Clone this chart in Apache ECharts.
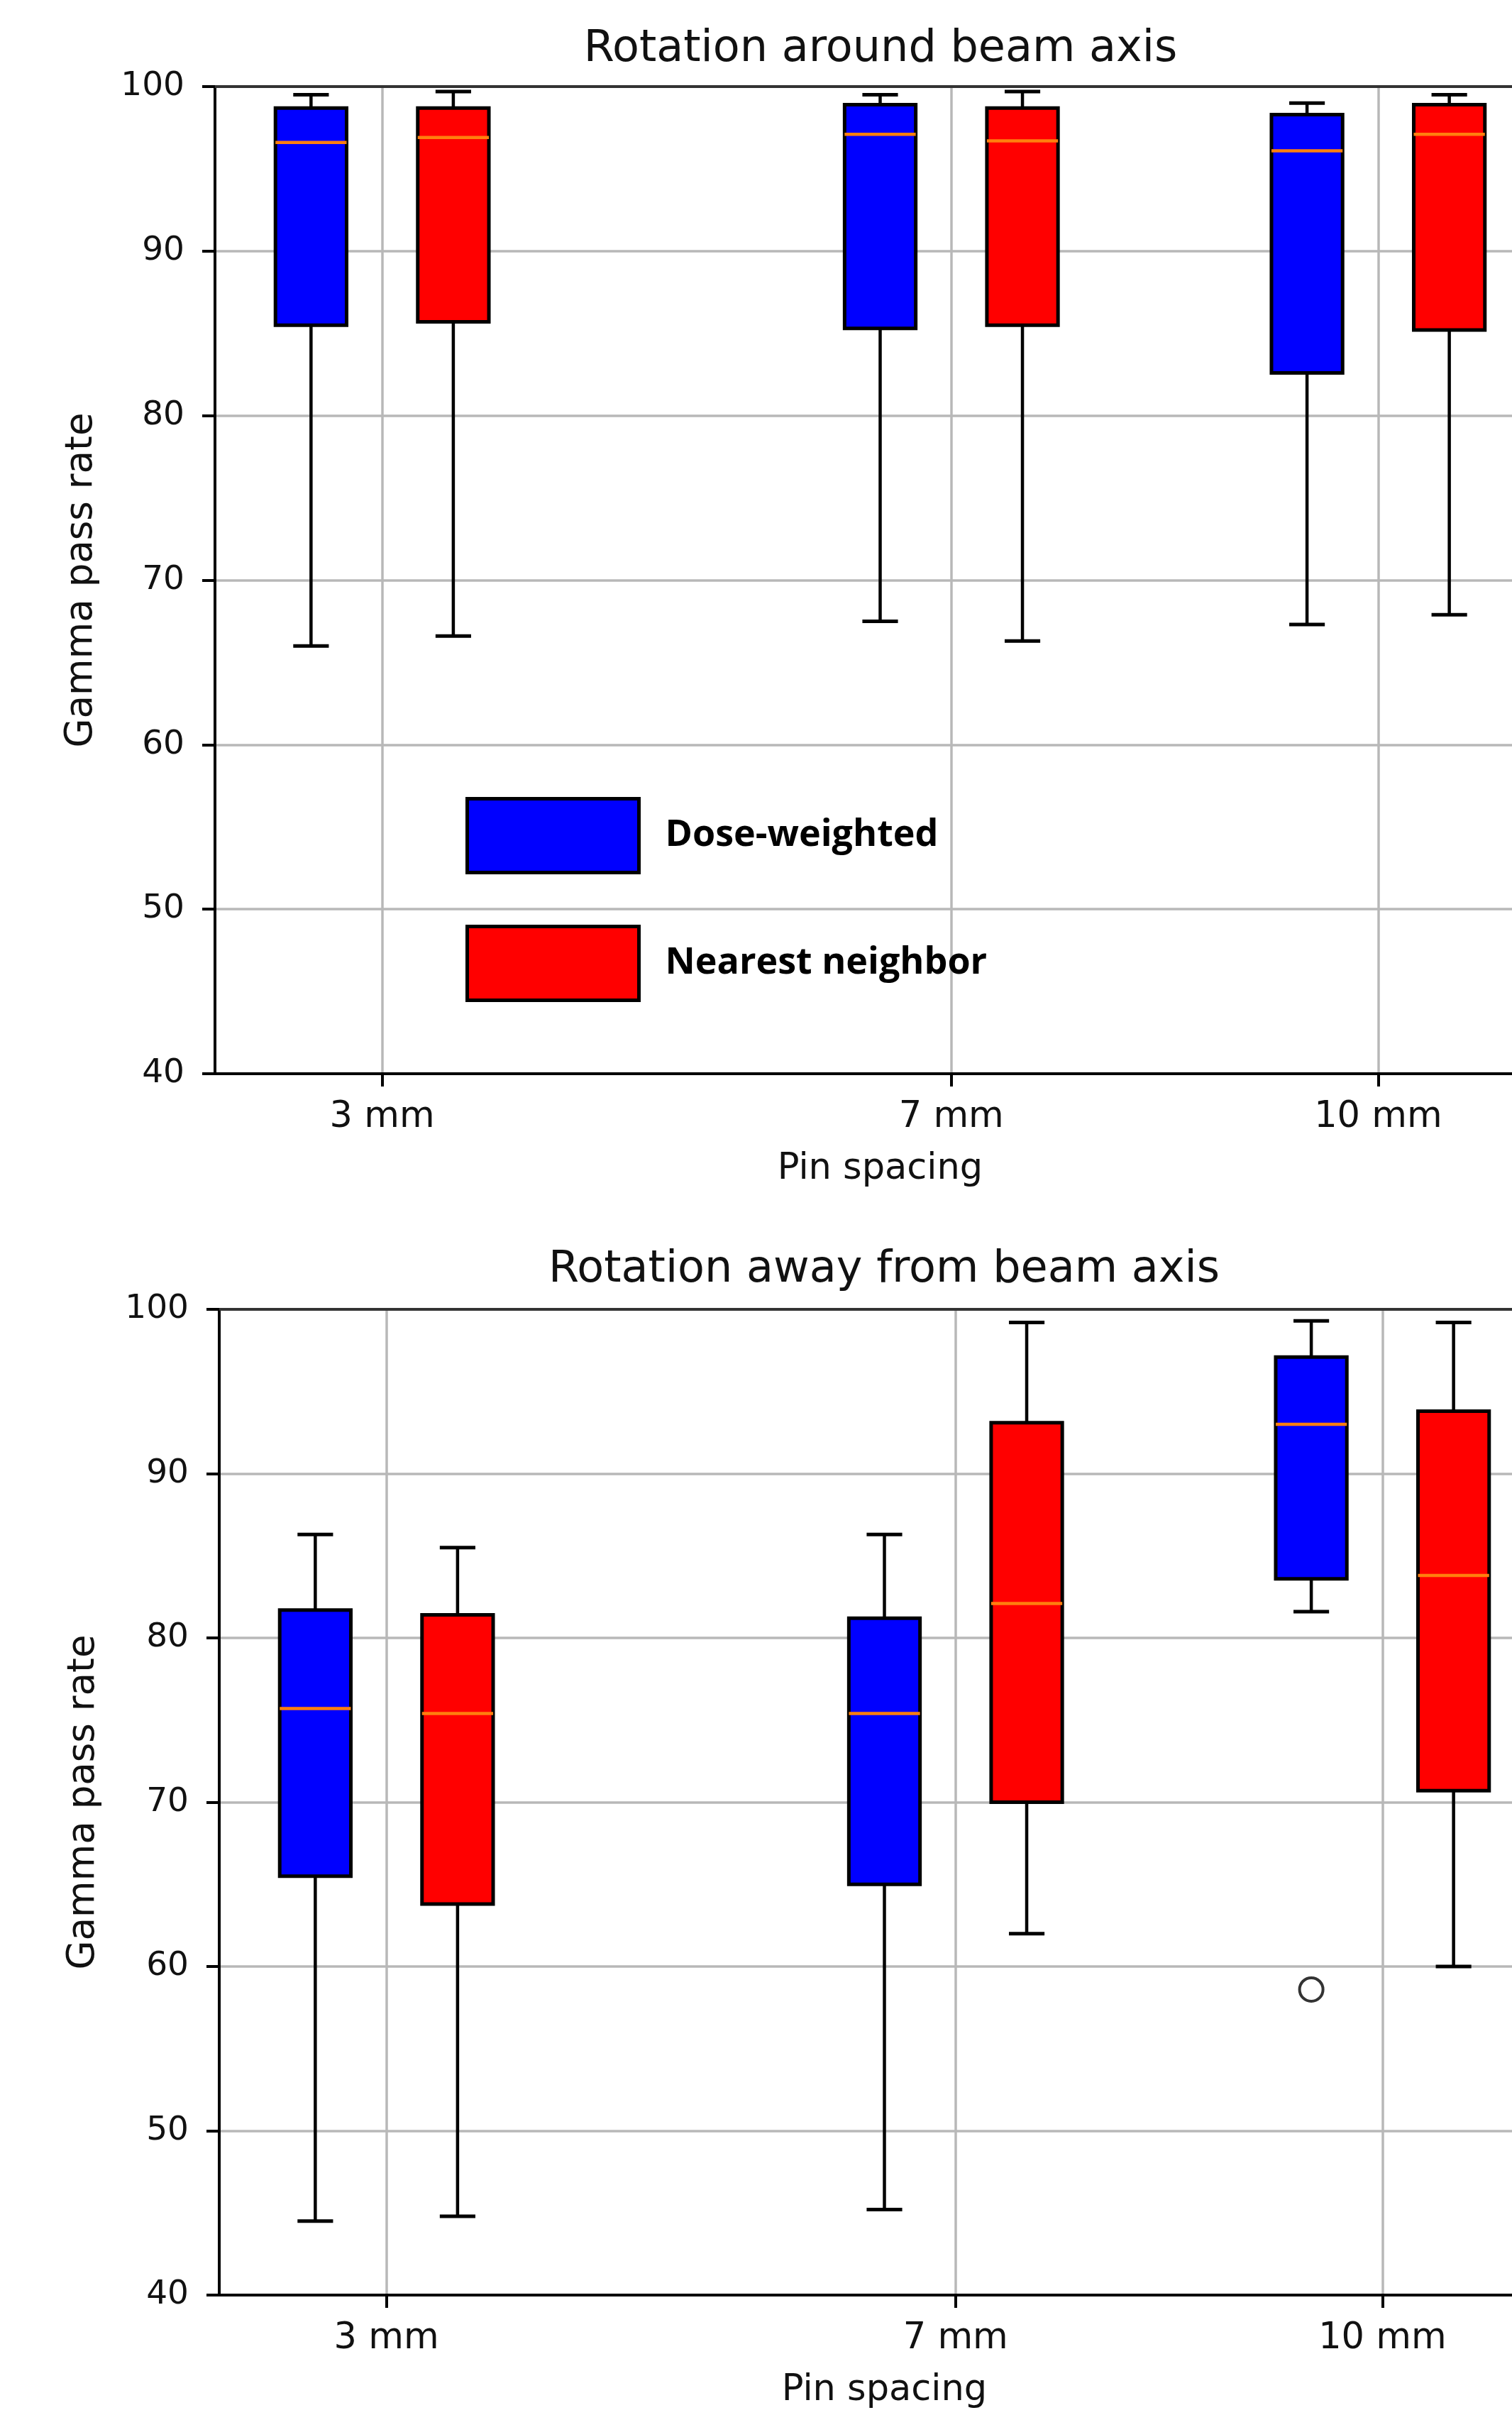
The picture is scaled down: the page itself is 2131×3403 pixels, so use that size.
<!DOCTYPE html>
<html>
<head>
<meta charset="utf-8">
<script src="https://cdn.jsdelivr.net/npm/echarts@6/dist/echarts.min.js"></script>
<style>
html, body { margin: 0; padding: 0; background: #ffffff; }
#chart { width: 2131px; height: 3403px; }
</style>
</head>
<body>
<div id="chart"></div>
<script>
// ---------------- data ----------------
const categories = ['3 mm', '7 mm', '10 mm'];
const pinSpacing = [3, 7, 10];
const seriesNames = ['Dose-weighted', 'Nearest neighbor'];
const yTickValues = [40, 50, 60, 70, 80, 90, 100];
const titles = ['Rotation around beam axis', 'Rotation away from beam axis'];

// each entry: [lower whisker, Q1, median, Q3, upper whisker]
const aroundDoseWeighted = [
  [66.0, 85.5, 96.6, 98.7, 99.5],
  [67.5, 85.3, 97.1, 98.9, 99.5],
  [67.3, 82.6, 96.1, 98.3, 99.0]
];
const aroundNearestNeighbor = [
  [66.6, 85.7, 96.9, 98.7, 99.7],
  [66.3, 85.5, 96.7, 98.7, 99.7],
  [67.9, 85.2, 97.1, 98.9, 99.5]
];
const awayDoseWeighted = [
  [44.5, 65.5, 75.7, 81.7, 86.3],
  [45.2, 65.0, 75.4, 81.2, 86.3],
  [81.6, 83.6, 93.0, 97.1, 99.3]
];
const awayNearestNeighbor = [
  [44.8, 63.8, 75.4, 81.4, 85.5],
  [62.0, 70.0, 82.1, 93.1, 99.2],
  [60.0, 70.7, 83.8, 93.8, 99.2]
];
// outliers of "away" dose-weighted: pin spacing and value
const awayDoseOutlierSpacing = [10];
const awayDoseOutlierValues = [58.6];

// ---------------- helpers ----------------
const BOX_SHIFT = 0.5;   // box offset from pin spacing (axis units)
const BOX_WIDTH = 0.5;   // box width (axis units)
const FONT = '"DejaVu Sans", sans-serif';

function boxData(stats, shift) {
  return stats.map((s, i) => [pinSpacing[i] + shift].concat(s));
}

function renderBox(params, api) {
  const x = api.value(0);
  const pLo = api.coord([x, api.value(1)]);
  const pQ1 = api.coord([x, api.value(2)]);
  const pMed = api.coord([x, api.value(3)]);
  const pQ3 = api.coord([x, api.value(4)]);
  const pHi = api.coord([x, api.value(5)]);
  const half = api.size([BOX_WIDTH, 0])[0] / 2;
  const cap = half / 2;
  const cx = pLo[0];
  const line = (x1, y1, x2, y2, color, w) => ({
    type: 'line', shape: { x1, y1, x2, y2 }, style: { stroke: color, lineWidth: w }
  });
  return {
    type: 'group',
    children: [
      line(cx, pQ3[1], cx, pHi[1], '#000', 4.5),
      line(cx, pQ1[1], cx, pLo[1], '#000', 4.5),
      line(cx - cap, pHi[1], cx + cap, pHi[1], '#000', 5),
      line(cx - cap, pLo[1], cx + cap, pLo[1], '#000', 5),
      {
        type: 'rect',
        shape: { x: cx - half, y: pQ3[1], width: 2 * half, height: pQ1[1] - pQ3[1] },
        style: { fill: api.visual('color'), stroke: '#000', lineWidth: 5 }
      },
      line(cx - half, pMed[1], cx + half, pMed[1], '#ff7f0e', 4.5)
    ]
  };
}

const X_MIN = 1.825, X_MAX = 11.175;

function bottomXAxis(gridIndex) {
  return {
    gridIndex: gridIndex, type: 'value', position: 'bottom',
    min: X_MIN, max: X_MAX,
    axisLine: { show: true, lineStyle: { color: '#000', width: 4 } },
    axisTick: { show: true, customValues: pinSpacing, length: 18, lineStyle: { color: '#000', width: 4 } },
    axisLabel: {
      show: true, customValues: pinSpacing,
      formatter: v => categories[pinSpacing.indexOf(Math.round(v))] || '',
      fontFamily: FONT, fontSize: 51, color: '#111', margin: 36
    },
    splitLine: { show: true, lineStyle: { color: '#b8b8b8', width: 3.5 } },
    name: 'Pin spacing', nameLocation: 'middle', nameGap: 109,
    nameTextStyle: { fontFamily: FONT, fontSize: 51, color: '#111' }
  };
}
function topXAxis(gridIndex) {
  return {
    gridIndex: gridIndex, type: 'value', position: 'top',
    min: X_MIN, max: X_MAX,
    axisLine: { show: true, lineStyle: { color: '#333', width: 4 } },
    axisTick: { show: false }, axisLabel: { show: false }, splitLine: { show: false }
  };
}
function leftYAxis(gridIndex, gap) {
  return {
    gridIndex: gridIndex, type: 'value',
    min: yTickValues[0], max: yTickValues[yTickValues.length - 1], interval: 10,
    axisLine: { show: true, lineStyle: { color: '#000', width: 4 } },
    axisTick: { show: true, length: 18, lineStyle: { color: '#000', width: 4 } },
    axisLabel: { fontFamily: FONT, fontSize: 47, color: '#111', margin: 43 },
    splitLine: { show: true, lineStyle: { color: '#b8b8b8', width: 3.5 } },
    name: 'Gamma pass rate', nameLocation: 'middle', nameGap: gap,
    nameTextStyle: { fontFamily: FONT, fontSize: 53, color: '#111' }
  };
}

const colors = ['#0000ff', '#ff0000'];

const option = {
  animation: false,
  backgroundColor: '#ffffff',
  grid: [
    { left: 303, top: 122, width: 1875, height: 1391, outerBoundsMode: 'none', containLabel: false },
    { left: 309, top: 1845, width: 1875, height: 1389, outerBoundsMode: 'none', containLabel: false }
  ],
  xAxis: [bottomXAxis(0), topXAxis(0), bottomXAxis(1), topXAxis(1)],
  yAxis: [leftYAxis(0, 161), leftYAxis(1, 164)],
  legend: {
    data: [
      { name: seriesNames[0], icon: 'rect', itemStyle: { color: colors[0], borderColor: '#000', borderWidth: 5 } },
      { name: seriesNames[1], icon: 'rect', itemStyle: { color: colors[1], borderColor: '#000', borderWidth: 5 } }
    ],
    orient: 'vertical', left: 656, top: 1123, padding: 0,
    itemWidth: 242, itemHeight: 104, itemGap: 71,
    selectedMode: false,
    textStyle: { fontFamily: '"Open Sans", sans-serif', fontWeight: 'bold', fontSize: 52, color: '#000', padding: [0, 0, 16, 32] }
  },
  graphic: [
    { type: 'text', x: 1241, y: 70, style: { text: titles[0], font: '62px "DejaVu Sans"', fill: '#111', align: 'center', verticalAlign: 'middle', textAlign: 'center', textVerticalAlign: 'middle' } },
    { type: 'text', x: 1246, y: 1790, style: { text: titles[1], font: '62px "DejaVu Sans"', fill: '#111', align: 'center', verticalAlign: 'middle', textAlign: 'center', textVerticalAlign: 'middle' } }
  ],
  series: [
    { type: 'custom', name: seriesNames[0], xAxisIndex: 0, yAxisIndex: 0, itemStyle: { color: colors[0] },
      encode: { x: 0, y: [1, 2, 3, 4, 5] }, renderItem: renderBox, data: boxData(aroundDoseWeighted, -BOX_SHIFT), z: 3 },
    { type: 'custom', name: seriesNames[1], xAxisIndex: 0, yAxisIndex: 0, itemStyle: { color: colors[1] },
      encode: { x: 0, y: [1, 2, 3, 4, 5] }, renderItem: renderBox, data: boxData(aroundNearestNeighbor, BOX_SHIFT), z: 3 },
    { type: 'custom', name: seriesNames[0], xAxisIndex: 2, yAxisIndex: 1, itemStyle: { color: colors[0] },
      encode: { x: 0, y: [1, 2, 3, 4, 5] }, renderItem: renderBox, data: boxData(awayDoseWeighted, -BOX_SHIFT), z: 3 },
    { type: 'custom', name: seriesNames[1], xAxisIndex: 2, yAxisIndex: 1, itemStyle: { color: colors[1] },
      encode: { x: 0, y: [1, 2, 3, 4, 5] }, renderItem: renderBox, data: boxData(awayNearestNeighbor, BOX_SHIFT), z: 3 },
    { type: 'scatter', name: 'Outliers', xAxisIndex: 2, yAxisIndex: 1,
      data: awayDoseOutlierValues.map((v, i) => [awayDoseOutlierSpacing[i] - BOX_SHIFT, v]),
      symbol: 'circle', symbolSize: 33,
      itemStyle: { color: 'rgba(0,0,0,0)', borderColor: '#000', borderWidth: 4 }, z: 4 }
  ]
};

const chart = echarts.init(document.getElementById('chart'), null, { renderer: 'canvas' });
chart.setOption(option);
</script>
</body>
</html>
